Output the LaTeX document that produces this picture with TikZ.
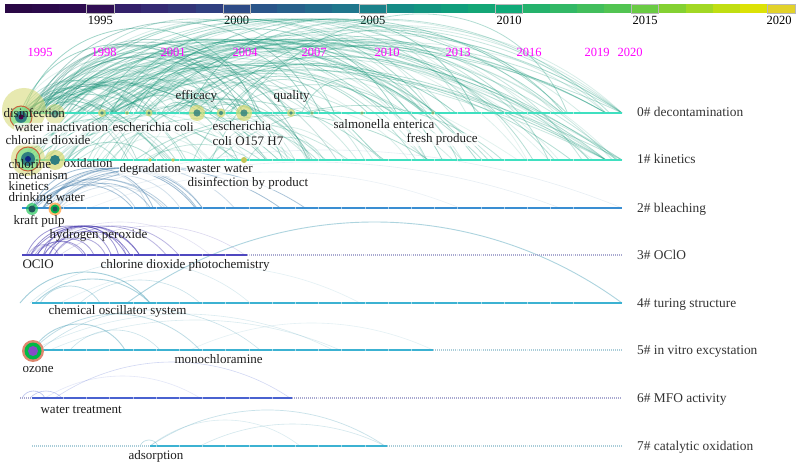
\documentclass[tikz,border=0pt]{standalone}
\usepackage{fontspec}
\setmainfont{Liberation Serif}
\definecolor{ln01}{HTML}{3FE0C0}
\definecolor{arcg}{HTML}{1A9A7C}
\definecolor{arcd}{HTML}{13806E}
\definecolor{ln2}{HTML}{3A8ED2}
\definecolor{arcb}{HTML}{3A76A6}
\definecolor{ln3}{HTML}{4F48C0}
\definecolor{arcp}{HTML}{4A3CB0}
\definecolor{dot3}{HTML}{A8A8D0}
\definecolor{ln4}{HTML}{3CB2D2}
\definecolor{arct}{HTML}{4AA0B8}
\definecolor{ln6}{HTML}{4A62D0}
\definecolor{dotc}{HTML}{A8CCD8}
\definecolor{mag}{HTML}{FF00FF}
\definecolor{halo}{HTML}{D4D870}
\definecolor{ringr}{HTML}{C8643C}
\definecolor{coreT}{HTML}{2E7E80}
% circular-looking arc: x1 y1 x2 y2 top style
\newcommand\carc[6]{%
  \pgfmathsetmacro\cL{#3-#1}%
  \pgfmathsetmacro\cS{min(#2-#5,0.5*\cL)}%
  \pgfmathsetmacro\cT{2*atan(2*\cS/\cL)}%
  \pgfmathsetmacro\cR{\cL/(2*sin(\cT))}%
  \pgfmathsetmacro\cK{4/3*(2*\cS/\cL)*\cR}%
  \pgfmathsetmacro\cX{\cK*cos(\cT)}%
  \pgfmathsetmacro\cY{\cK*sin(\cT)}%
  \draw[#6] (#1,#2) .. controls ({#1+\cX},{#2-\cY}) and ({#3-\cX},{#4-\cY}) .. (#3,#4);}
\tikzset{
  lbl/.style={font=\fontsize{13}{13}\selectfont, text=black!88, inner sep=0.4pt, anchor=base west},
  lblw/.style={lbl, fill=white, fill opacity=0.75, text opacity=1, rounded corners=2pt},
  clab/.style={font=\fontsize{13.4}{13.4}\selectfont, text=black!80, anchor=base west, inner sep=0pt},
  yr/.style={font=\fontsize{12.5}{12.5}\selectfont, anchor=base, inner sep=0pt, text=black},
  yrm/.style={yr, text=mag},
  tline/.style={line width=2.6pt},
  dline/.style={line width=1.4pt, dash pattern=on 1pt off 1pt},
}
\begin{document}
\begin{tikzpicture}[x=1pt,y=-1pt]
\useasboundingbox (0,0) rectangle (800,465);
\fill[white] (0,0) rectangle (800,465);
% ---------- colour bar
\foreach \c [count=\i from 0] in {2A0846,2C0A4B,2E0C50,300E54,33206A,352A73,333478,303F80,2D4A86,2A5589,27608B,236B8C,1F768C,1A818A,158B86,129580,109E7C,14A676,0FAA78,25B26C,32B866,42BE5C,52C452,6ACB44,84D132,A2D824,C0DE12,DCE206,E2D22A}{
  \definecolor{cbc}{HTML}{\c}
  \fill[cbc] ({5+\i*27.24},4) rectangle ({5+(\i+1)*27.24},13);
}
\foreach \i in {3,8,13,18,23,28}{
  \draw[gray!55, line width=0.7pt] ({5+\i*27.24},4) rectangle ({5+(\i+1)*27.24},13);
}
\node[yr] (t1995) at (100.4,25) {1995};
\node[yr] (t2000) at (236.6,25) {2000};
\node[yr] (t2005) at (372.8,25) {2005};
\node[yr] (t2010) at (509.0,25) {2010};
\node[yr] (t2015) at (645.2,25) {2015};
\node[yr] (t2020) at (779.0,25) {2020};
% ---------- arcs cluster 0/1
\pgfmathsetseed{11}
\foreach \i in {1,...,80}{
  \pgfmathsetmacro\xa{20+330*rnd*rnd}
  \pgfmathsetmacro\xb{\xa+(622-\xa)*(0.15+0.85*rnd)}
  \pgfmathsetmacro\yb{rnd<0.35 ? 160 : 113}
  \pgfmathsetmacro\tp{max(19,113-(\xb-\xa)*(0.15+0.22*rnd))}
  \pgfmathsetmacro\op{0.12+0.3*rnd}
  \carc{\xa}{113}{\xb}{\yb}{\tp}{arcg, line width=0.8pt, opacity=\op}
}
\foreach \i in {1,...,22}{
  \pgfmathsetmacro\xa{20+220*rnd*rnd}
  \pgfmathsetmacro\xb{rnd<0.5 ? 622 : 606}
  \pgfmathsetmacro\yb{rnd<0.4 ? 160 : 113}
  \pgfmathsetmacro\tp{19+35*rnd}
  \pgfmathsetmacro\op{0.12+0.25*rnd}
  \carc{\xa}{113}{\xb}{\yb}{\tp}{arcg, line width=0.8pt, opacity=\op}
}
\foreach \i in {1,...,18}{
  \pgfmathsetmacro\xa{20+40*rnd}
  \pgfmathsetmacro\xb{\xa+60+300*rnd}
  \pgfmathsetmacro\yb{rnd<0.5 ? 160 : 113}
  \pgfmathsetmacro\tp{max(22,113-(\xb-\xa)*(0.2+0.2*rnd))}
  \pgfmathsetmacro\op{0.15+0.25*rnd}
  \carc{\xa}{113}{\xb}{\yb}{\tp}{arcd, line width=0.8pt, opacity=\op}
}
\foreach \i in {1,...,50}{
  \pgfmathsetmacro\xa{20+260*rnd*rnd}
  \pgfmathsetmacro\xb{\xa+(622-\xa)*(0.1+0.9*rnd)}
  \pgfmathsetmacro\yb{rnd<0.8 ? 160 : 113}
  \pgfmathsetmacro\tp{max(40,160-(\xb-\xa)*(0.15+0.2*rnd))}
  \pgfmathsetmacro\op{0.10+0.25*rnd}
  \carc{\xa}{160}{\xb}{\yb}{\tp}{arcg, line width=0.8pt, opacity=\op}
}
% ---------- arcs cluster 2
\foreach \i in {1,...,16}{
  \pgfmathsetmacro\xa{22+40*rnd}
  \pgfmathsetmacro\xb{\xa+30+240*rnd}
  \pgfmathsetmacro\tp{max(168,208-(\xb-\xa)*(0.2+0.2*rnd))}
  \pgfmathsetmacro\op{0.2+0.35*rnd}
  \carc{\xa}{208}{\xb}{208}{\tp}{arcb, line width=0.8pt, opacity=\op}
}
\carc{30}{208}{622}{208}{150}{arcb, line width=0.6pt, opacity=0.12}
\carc{60}{208}{560}{208}{162}{arcb, line width=0.6pt, opacity=0.12}
\carc{90}{208}{460}{208}{172}{arcb, line width=0.6pt, opacity=0.1}
% ---------- arcs cluster 3
\foreach \i in {1,...,14}{
  \pgfmathsetmacro\xa{22+35*rnd}
  \pgfmathsetmacro\xb{\xa+25+110*rnd}
  \pgfmathsetmacro\tp{max(226,255-(\xb-\xa)*(0.25+0.2*rnd))}
  \pgfmathsetmacro\op{0.3+0.4*rnd}
  \carc{\xa}{255}{\xb}{255}{\tp}{arcp, line width=0.8pt, opacity=\op}
}
\carc{60}{255}{245}{255}{226}{arcp, line width=0.6pt, opacity=0.2}
\carc{30}{255}{210}{255}{222}{arcp, line width=0.6pt, opacity=0.15}
% ---------- arcs cluster 4
\carc{20}{303}{150}{303}{272}{arct, line width=0.9pt, opacity=0.5}
\carc{35}{303}{150}{303}{279}{arct, line width=0.9pt, opacity=0.45}
\carc{40}{303}{100}{303}{286}{arct, line width=0.7pt, opacity=0.4}
\carc{30}{303}{250}{303}{262}{arct, line width=0.6pt, opacity=0.2}
\carc{60}{303}{360}{303}{266}{arct, line width=0.6pt, opacity=0.15}
\carc{80}{303}{200}{303}{280}{arct, line width=0.6pt, opacity=0.3}
\carc{127}{303}{622}{303}{222}{arct, line width=0.9pt, opacity=0.45}
% ---------- arcs cluster 5
\carc{33}{350}{125}{350}{324}{arct, line width=0.9pt, opacity=0.45}
\carc{33}{350}{200}{350}{314}{arct, line width=0.8pt, opacity=0.35}
\carc{40}{350}{260}{350}{310}{arct, line width=0.6pt, opacity=0.3}
\carc{33}{350}{333}{350}{314}{arct, line width=0.6pt, opacity=0.2}
\carc{50}{350}{340}{350}{320}{arct, line width=0.6pt, opacity=0.2}
\carc{190}{350}{433}{350}{323}{arct, line width=0.6pt, opacity=0.15}
\carc{70}{350}{160}{350}{330}{arct, line width=0.6pt, opacity=0.3}
% ---------- arcs cluster 6
\carc{22}{398}{45}{398}{391}{ln6, line width=0.6pt, opacity=0.4}
\carc{30}{398}{62}{398}{391}{ln6, line width=0.6pt, opacity=0.35}
\carc{55}{398}{290}{398}{362}{ln6, line width=0.6pt, opacity=0.25}
\carc{45}{398}{200}{398}{376}{ln6, line width=0.6pt, opacity=0.15}
% ---------- arcs cluster 7
\carc{140}{446}{158}{446}{440}{arct, line width=0.6pt, opacity=0.4}
\carc{150}{446}{385}{446}{410}{arct, line width=0.7pt, opacity=0.3}
\carc{200}{446}{385}{446}{424}{arct, line width=0.6pt, opacity=0.25}
\carc{150}{446}{300}{446}{420}{arct, line width=0.6pt, opacity=0.2}
% ---------- magenta years
\foreach \x/\y in {40/1995,104/1998,173/2001,245/2004,314/2007,387/2010,458/2013,529/2016,597/2019,630/2020}{
  \node[yrm] (m\y) at (\x,57) {\y};
}
% ---------- timelines
\draw[ln01, tline] (20,113) -- (622,113);
\draw[ln01, tline] (20,160) -- (622,160);
\draw[ln2, tline] (22,208) -- (622,208);
\draw[ln3, tline] (22,255) -- (247,255);
\draw[dot3, dline] (247,255) -- (622,255);
\draw[ln4, tline] (32,303) -- (622,303);
\draw[ln4, tline] (40,350) -- (433,350);
\draw[dotc, dline] (433,350) -- (622,350);
\draw[dot3, dline] (20,398) -- (32,398);
\draw[ln6, tline] (32,398) -- (292,398);
\draw[dot3, dline] (292,398) -- (622,398);
\draw[dotc, dline] (32,446) -- (150,446);
\draw[ln4, tline] (150,446) -- (387,446);
\draw[dotc, dline] (387,446) -- (622,446);
% faint year slice gaps on the lines
\foreach \ly in {113,160,208,255,303,350,398,446}{
  \foreach \k in {1,...,23}{
    \draw[white, line width=0.45pt, opacity=0.55] ({40+23.2*\k},{\ly-1.4}) -- ({40+23.2*\k},{\ly+1.4});
  }
}
% ---------- citation nodes
\fill[halo, opacity=0.55] (24,110) circle (22);
\fill[halo, opacity=0.5] (55,114) circle (10);
\fill[coreT, opacity=0.6] (55,114) circle (4);
\fill[teal!40!green!60, opacity=0.6] (21,117) circle (11);
\draw[ringr, line width=1pt] (21,117) circle (11);
\fill[coreT] (21,117) circle (6);
\fill[violet!60!black] (21,117) circle (2.5);
\foreach \x/\r in {102/4,127/2,149/3.5,197/8,221/4.5,244/8,291/4,312/1.8,362/1.8,433/1.8}{
  \fill[halo, opacity=0.7] (\x,113) circle (\r);
  \fill[coreT, opacity=0.8] (\x,113) circle ({\r*0.45});
}
% 1#
\fill[halo, opacity=0.55] (28,159) circle (17);
\fill[teal!40!green!60, opacity=0.6] (28,159) circle (12);
\draw[ringr, line width=1pt] (28,159) circle (12);
\fill[coreT] (28,159) circle (7);
\fill[blue!50!black, opacity=0.7] (28,159) circle (3);
\fill[halo, opacity=0.7] (55,160) circle (10);
\fill[coreT] (55,160) circle (5);
\foreach \x/\r in {150/1.8,173/1.8,244/3}{
  \fill[halo!80!olive] (\x,160) circle (\r);
}
% 2#
\fill[green!50!teal, opacity=0.6] (32,209) circle (6);
\fill[coreT!70!black] (32,209) circle (3.5);
\fill[orange!70, opacity=0.8] (55,209) circle (6.5);
\fill[green!40!teal] (55,209) circle (4.5);
\fill[coreT!70!black] (55,209) circle (2.5);
% 5# ozone
\fill[ringr!60!pink] (33,351) circle (11);
\fill[green!45!teal] (33,351) circle (8.5);
\fill[blue!35!violet!70] (33,351) circle (5);
% ---------- labels
\node[lbl] (disinfection) at (3,118) {disinfection};
\node[lblw] (waterinact) at (14,132) {water inactivation};
\node[lblw] (ecoli) at (112,132) {escherichia coli};
\node[lblw] (clo2) at (5,145) {chlorine dioxide};
\node[lbl] (efficacy) at (175,100) {efficacy};
\node[lbl] (quality) at (273,100) {quality};
\node[lblw] (esch) at (212,131) {escherichia};
\node[lblw] (o157) at (212,146) {coli O157 H7};
\node[lblw] (salmonella) at (333,129) {salmonella enterica};
\node[lblw] (fresh) at (406,143) {fresh produce};
\node[lbl] (chlorine) at (8,169) {chlorine};
\node[lbl] (oxidation) at (63,168) {oxidation};
\node[lbl] (mechanism) at (8,179) {mechanism};
\node[lbl] (kinetics) at (8,190) {kinetics};
\node[lbl] (drinking) at (8,201) {drinking water};
\node[lblw] (degradation) at (119,173) {degradation};
\node[lblw] (waster) at (186,173) {waster water};
\node[lblw] (dbp) at (187,187) {disinfection by product};
\node[lbl] (kraft) at (13,225) {kraft pulp};
\node[lbl] (h2o2) at (49,238) {hydrogen peroxide};
\node[lbl] (oclo) at (22,268) {OClO};
\node[lbl] (photo) at (100,268) {chlorine dioxide photochemistry};
\node[lbl] (oscill) at (48,314) {chemical oscillator system};
\node[lbl] (ozone) at (22,372) {ozone};
\node[lbl] (monochl) at (174,363) {monochloramine};
\node[lbl] (watertr) at (40,413) {water treatment};
\node[lbl] (adsorp) at (128,459) {adsorption};
% ---------- cluster labels
\node[clab] (c0) at (637,117) {0\# decontamination};
\node[clab] (c1) at (637,164) {1\# kinetics};
\node[clab] (c2) at (637,212) {2\# bleaching};
\node[clab] (c3) at (637,259) {3\# OClO};
\node[clab] (c4) at (637,307) {4\# turing structure};
\node[clab] (c5) at (637,354) {5\# in vitro excystation};
\node[clab] (c6) at (637,402) {6\# MFO activity};
\node[clab] (c7) at (637,450) {7\# catalytic oxidation};
\end{tikzpicture}
\end{document}
